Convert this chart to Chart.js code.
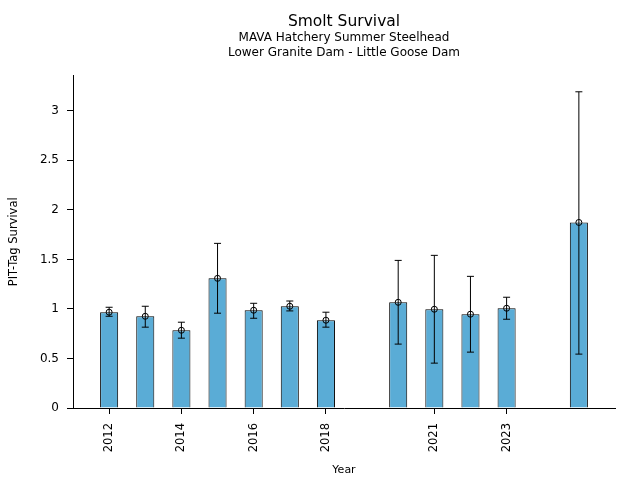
<!DOCTYPE html>
<html>
<head>
<meta charset="utf-8">
<script src="https://cdn.jsdelivr.net/npm/chart.js@4.4.1/dist/chart.umd.min.js"></script>
<style>
  html, body { margin: 0; padding: 0; background: #fff; }
  #wrap { width: 640px; height: 480px; }
</style>
</head>
<body>
<div id="wrap"><canvas id="survivalGraph" width="640" height="480"></canvas></div>
<script>
// values
const years = [2012, 2013, 2014, 2015, 2016, 2017, 2018, 2020, 2021, 2022, 2023, 2025];
const survival = [0.967, 0.926, 0.785, 1.309, 0.987, 1.027, 0.886, 1.067, 0.997, 0.947, 1.007, 1.873];
const lowerCI = [0.926, 0.816, 0.705, 0.957, 0.906, 0.980, 0.816, 0.645, 0.453, 0.564, 0.896, 0.544];
const upperCI = [1.017, 1.027, 0.866, 1.662, 1.057, 1.080, 0.967, 1.490, 1.541, 1.329, 1.118, 3.192];
const xTickYears = [2012, 2014, 2016, 2018, 2021, 2023];
const yTickValues = [0, 0.5, 1, 1.5, 2, 2.5, 3];

const fontFamily = '"DejaVu Sans", sans-serif';

// error bars drawn on top of the bars
const errorBars = {
    id: 'errorBars',
    afterDatasetsDraw(chart) {
        const ctx = chart.ctx;
        const x = chart.scales.x;
        const y = chart.scales.y;
        ctx.save();
        ctx.strokeStyle = '#000';
        ctx.lineWidth = 1;
        years.forEach((yr, i) => {
            const px = x.getPixelForValue(yr);
            const top = y.getPixelForValue(upperCI[i]);
            const bot = y.getPixelForValue(lowerCI[i]);
            ctx.beginPath();
            ctx.moveTo(px, top);
            ctx.lineTo(px, bot);
            ctx.moveTo(px - 3.5, top);
            ctx.lineTo(px + 3.5, top);
            ctx.moveTo(px - 3.5, bot);
            ctx.lineTo(px + 3.5, bot);
            ctx.stroke();
        });
        ctx.restore();
    }
};

const points = years.map((yr, i) => ({ x: yr, y: survival[i] }));

const ctx = document.getElementById('survivalGraph').getContext('2d');
new Chart(ctx, {
    data: {
        datasets: [
            {
                type: 'scatter',
                label: 'Estimate',
                data: points,
                pointStyle: 'circle',
                pointRadius: 3,
                pointBorderWidth: 1,
                pointBackgroundColor: 'rgba(0,0,0,0)',
                pointBorderColor: '#000',
                order: 0
            },
            {
                type: 'bar',
                label: 'Survival',
                data: points,
                backgroundColor: '#5aacd6',
                borderColor: '#000',
                borderWidth: 1,
                barPercentage: 0.5,
                categoryPercentage: 1,
                order: 1
            }
        ]
    },
    options: {
        responsive: false,
        animation: false,
        layout: {
            padding: { left: 0, right: 25, top: 0, bottom: 0 }
        },
        plugins: {
            legend: { display: false },
            tooltip: { enabled: false },
            title: {
                display: true,
                fullSize: false,
                text: 'Smolt Survival',
                color: '#000',
                font: { family: fontFamily, size: 15.5, weight: 'normal', lineHeight: 1.1 },
                padding: { top: 13.5, bottom: 0 }
            },
            subtitle: {
                display: true,
                fullSize: false,
                text: ['MAVA Hatchery Summer Steelhead', 'Lower Granite Dam - Little Goose Dam'],
                color: '#000',
                font: { family: fontFamily, size: 12, lineHeight: 1.25 },
                padding: { top: 0, bottom: 15 }
            }
        },
        scales: {
            x: {
                type: 'linear',
                min: 2011,
                max: 2026,
                offset: false,
                grid: { display: true, offset: false, drawOnChartArea: false, drawTicks: true, tickLength: 6, color: '#000' },
                border: { display: true, color: '#000', width: 1 },
                ticks: {
                    color: '#000',
                    font: { family: fontFamily, size: 11.5 },
                    minRotation: 90,
                    maxRotation: 90,
                    padding: 9,
                    callback: v => String(v)
                },
                afterBuildTicks: scale => {
                    scale.ticks = xTickYears.map(v => ({ value: v }));
                },
                afterFit: scale => { scale.height = 72; },
                title: {
                    display: true,
                    text: 'Year',
                    color: '#000',
                    font: { family: fontFamily, size: 11 },
                    padding: { top: 0, bottom: 3 }
                }
            },
            y: {
                min: 0,
                max: 3.356,
                grid: { display: true, drawOnChartArea: false, drawTicks: true, tickLength: 6, color: '#000' },
                border: { display: true, color: '#000', width: 1 },
                ticks: {
                    color: '#000',
                    font: { family: fontFamily, size: 12 },
                    padding: 8,
                    callback: v => String(v)
                },
                afterBuildTicks: scale => {
                    scale.ticks = yTickValues.map(v => ({ value: v }));
                },
                afterFit: scale => { scale.width = 73; },
                title: {
                    display: true,
                    text: 'PIT-Tag Survival',
                    color: '#000',
                    font: { family: fontFamily, size: 11.5 },
                    padding: { top: 7.5, bottom: 0 }
                }
            }
        }
    },
    plugins: [errorBars]
});
</script>
</body>
</html>
